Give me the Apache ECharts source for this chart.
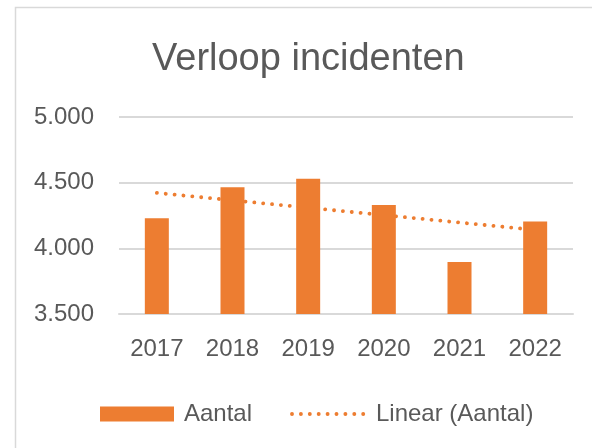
<!DOCTYPE html>
<html>
<head>
<meta charset="utf-8">
<script src="https://cdn.jsdelivr.net/npm/echarts@6/dist/echarts.min.js"></script>
<style>
  html, body { margin: 0; padding: 0; background: #ffffff; }
  #chart { width: 592px; height: 448px; }
</style>
</head>
<body>
<div id="chart"></div>
<script>
var titleText = 'Verloop incidenten';
var categories = ['2017', '2018', '2019', '2020', '2021', '2022'];
var aantal = [4230, 4465, 4530, 4330, 3895, 4205];
var trendCategories = ['2017', '2022'];
var trendValues = [4422, 4140];
var yTicks = [3500, 4000, 4500, 5000];

var orange = '#ED7D31';
var textGray = '#595959';
var gridGray = '#D9D9D9';
var fontFam = '"Liberation Sans", Arial, sans-serif';
var dotted = { color: orange, width: 3.8, type: [0.1, 8.8], cap: 'round' };

var chart = echarts.init(document.getElementById('chart'), null, { renderer: 'canvas' });
chart.setOption({
  animation: false,
  backgroundColor: '#ffffff',
  graphic: [{
    type: 'rect',
    shape: { x: 15.5, y: 7.5, width: 700, height: 600 },
    style: { fill: 'none', stroke: gridGray, lineWidth: 1.5 },
    silent: true
  }],
  title: {
    text: titleText,
    left: 152,
    top: 41,
    padding: 0,
    textStyle: { fontFamily: fontFam, fontSize: 38, fontWeight: 'normal', color: textGray }
  },
  grid: { left: 119, right: 19, top: 117, bottom: 134, containLabel: false },
  legend: {
    left: 100,
    top: 402,
    padding: 0,
    itemWidth: 74,
    itemHeight: 15,
    itemGap: 38,
    textStyle: { fontFamily: fontFam, fontSize: 24, color: textGray, padding: [0, 0, 0, 5] },
    data: [
      { name: 'Aantal', icon: 'rect' },
      { name: 'Linear (Aantal)', itemStyle: { opacity: 0 }, lineStyle: dotted }
    ]
  },
  xAxis: {
    type: 'category',
    data: categories,
    boundaryGap: true,
    axisLine: { show: true, lineStyle: { color: gridGray, width: 2 } },
    axisTick: { show: false },
    axisLabel: { margin: 23, fontFamily: fontFam, fontSize: 24, color: textGray }
  },
  yAxis: {
    type: 'value',
    min: yTicks[0],
    max: yTicks[yTicks.length - 1],
    interval: yTicks[1] - yTicks[0],
    axisLine: { show: false },
    axisTick: { show: false },
    splitLine: { lineStyle: { color: gridGray, width: 2 } },
    axisLabel: {
      margin: 25,
      fontFamily: fontFam, fontSize: 24, color: textGray,
      formatter: function (v) { return (v / 1000).toFixed(3); }
    }
  },
  series: [
    {
      name: 'Aantal',
      type: 'bar',
      data: aantal,
      barWidth: 24,
      z: 3,
      itemStyle: { color: orange }
    },
    {
      name: 'Linear (Aantal)',
      type: 'line',
      data: trendCategories.map(function (c, i) { return [c, trendValues[i]]; }),
      symbol: 'none',
      z: 1,
      lineStyle: dotted,
      itemStyle: { color: orange }
    }
  ]
});
</script>
</body>
</html>
